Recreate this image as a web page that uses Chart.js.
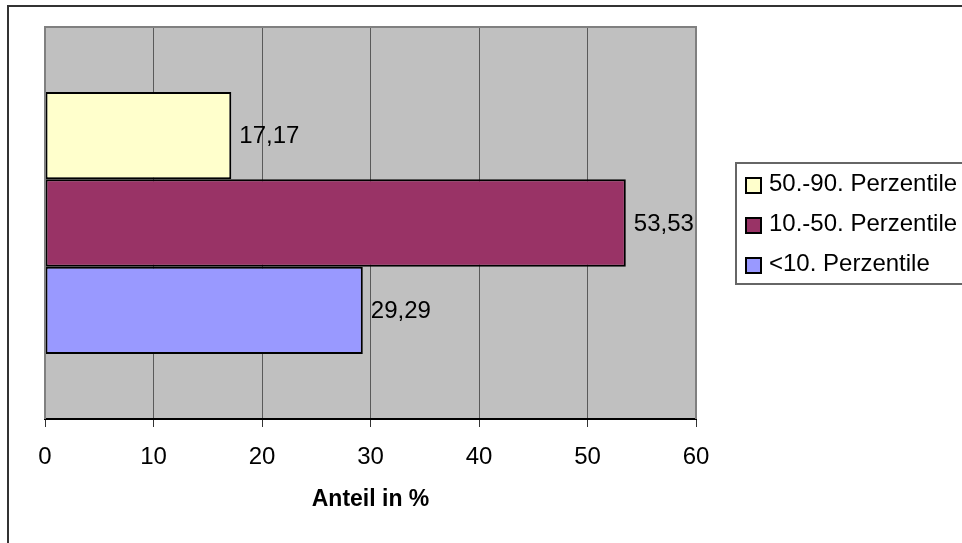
<!DOCTYPE html>
<html>
<head>
<meta charset="utf-8">
<script src="https://cdn.jsdelivr.net/npm/chart.js@4/dist/chart.umd.min.js"></script>
<style>
  html, body { margin: 0; padding: 0; background: #fff; }
  #wrap { width: 962px; height: 543px; position: relative; }
</style>
</head>
<body>
<div id="wrap"><canvas id="chart" width="962" height="543"></canvas></div>
<script>
// Daten
const categories = [''];
const seriesNames = ['50.-90. Perzentile', '10.-50. Perzentile', '<10. Perzentile'];
const seriesValues = [[17.17], [53.53], [29.29]];
const seriesColors = ['#ffffcc', '#993366', '#9999ff'];
const xTicks = [0, 10, 20, 30, 40, 50, 60];
const axisTitle = 'Anteil in %';

const FONT = "'Liberation Sans', Arial, sans-serif";

// Hintergrund der Zeichenfläche, Rahmen und Wertebeschriftungen
const excelLook = {
    id: 'excelLook',
    beforeDraw(chart) {
        const { ctx, chartArea: a } = chart;
        ctx.save();
        ctx.fillStyle = '#c0c0c0';
        ctx.fillRect(a.left, a.top, a.right - a.left, a.bottom - a.top);
        // äußerer Rahmen (rechts/unten abgeschnitten)
        ctx.strokeStyle = '#333';
        ctx.lineWidth = 2;
        ctx.beginPath();
        ctx.moveTo(8, 543);
        ctx.lineTo(8, 6);
        ctx.lineTo(962, 6);
        ctx.stroke();
        ctx.restore();
    },
    afterDraw(chart) {
        const { ctx, chartArea: a } = chart;
        ctx.save();
        // Rahmen der Zeichenfläche
        ctx.strokeStyle = '#808080';
        ctx.lineWidth = 2;
        ctx.beginPath();
        ctx.moveTo(a.left, a.bottom);
        ctx.lineTo(a.left, a.top);
        ctx.lineTo(a.right, a.top);
        ctx.lineTo(a.right, a.bottom);
        ctx.stroke();

        // Werte neben den Balken
        ctx.font = '24px ' + FONT;
        ctx.fillStyle = '#000';
        ctx.textBaseline = 'middle';
        ctx.textAlign = 'left';
        chart.data.datasets.forEach((ds, i) => {
            const meta = chart.getDatasetMeta(i);
            meta.data.forEach((bar, j) => {
                const txt = ds.data[j].toFixed(2).replace('.', ',');
                ctx.fillText(txt, bar.x + 8, bar.y + 1);
            });
        });

        // Legende
        const lx = 736, ly = 163;
        ctx.strokeStyle = '#666';
        ctx.lineWidth = 2;
        ctx.strokeRect(lx, ly, 300, 121);
        chart.data.datasets.forEach((ds, i) => {
            const cy = 185 + i * 40;
            ctx.fillStyle = ds.backgroundColor;
            ctx.fillRect(746, cy - 7, 15, 15);
            ctx.strokeStyle = '#000';
            ctx.lineWidth = 2;
            ctx.strokeRect(746, cy - 7, 15, 15);
            ctx.fillStyle = '#000';
            ctx.fillText(ds.label, 769, cy - 1);
        });
        ctx.restore();
    }
};

const datasets = seriesNames.map((name, i) => ({
    label: name,
    data: seriesValues[i],
    backgroundColor: seriesColors[i],
    borderColor: '#000',
    borderWidth: 2,
    borderSkipped: false,
    barPercentage: 1.0,
    categoryPercentage: 0.668
}));

const ctx = document.getElementById('chart').getContext('2d');
const chart = new Chart(ctx, {
    type: 'bar',
    data: { labels: categories, datasets: datasets },
    options: {
        indexAxis: 'y',
        responsive: false,
        animation: false,
        devicePixelRatio: 1,
        layout: { padding: { left: 45, top: 27, right: 266, bottom: 0 } },
        plugins: { legend: { display: false }, tooltip: { enabled: false } },
        scales: {
            y: { display: false },
            x: {
                min: xTicks[0],
                max: xTicks[xTicks.length - 1],
                afterBuildTicks: (axis) => { axis.ticks = xTicks.map(v => ({ value: v })); },
                afterFit: (axis) => { axis.height = 124; },
                grid: { color: '#5a5a5a', lineWidth: 1, tickLength: 8, tickColor: '#333' },
                border: { color: '#000', width: 2 },
                ticks: { color: '#000', font: { family: FONT, size: 24 }, padding: 16 },
                title: {
                    display: true,
                    text: axisTitle,
                    color: '#000',
                    font: { family: FONT, size: 23, weight: 'bold' },
                    padding: { top: 0, bottom: 30 }
                }
            }
        }
    },
    plugins: [excelLook]
});
</script>
</body>
</html>
